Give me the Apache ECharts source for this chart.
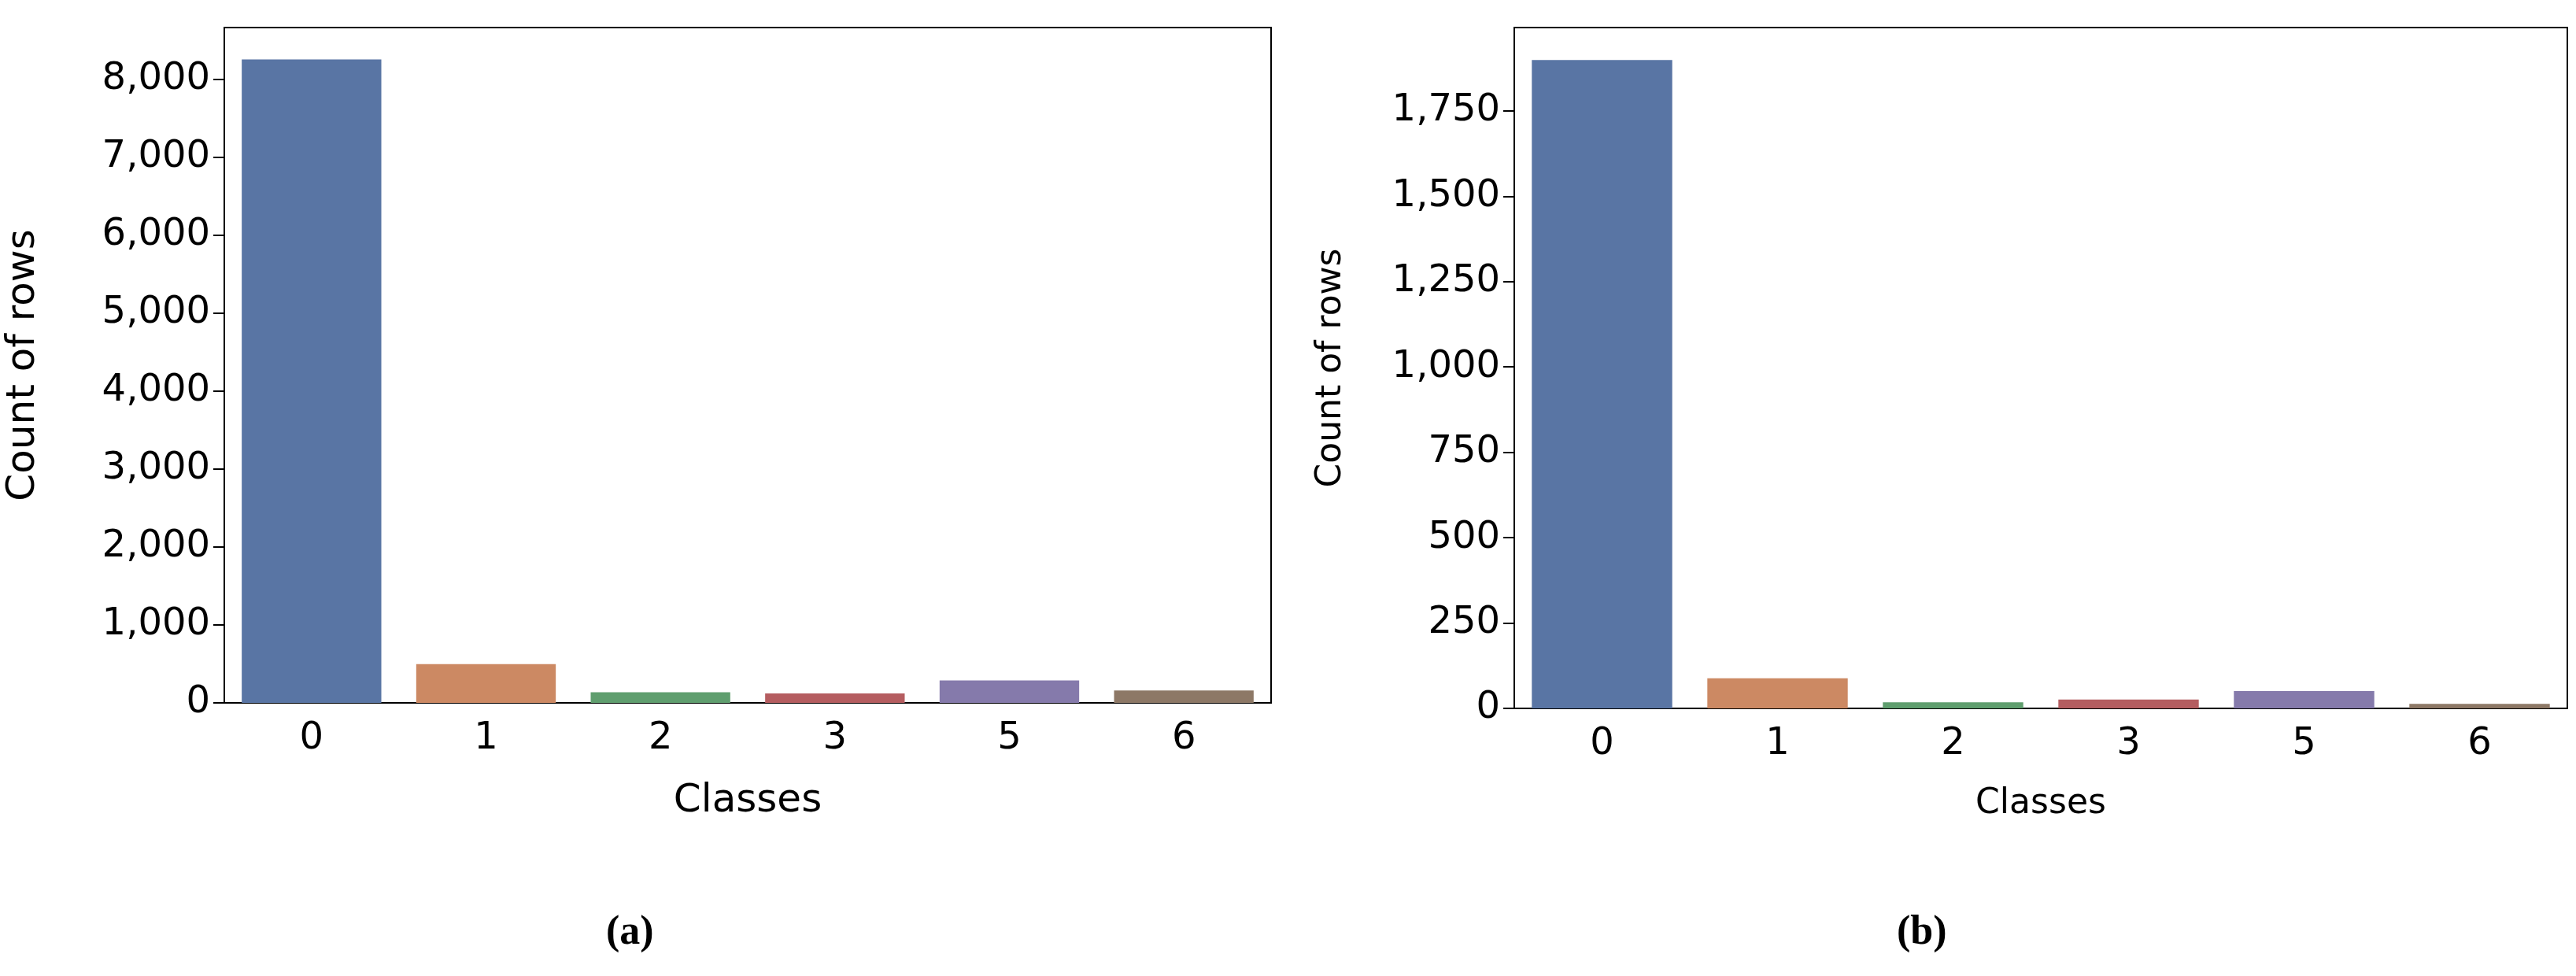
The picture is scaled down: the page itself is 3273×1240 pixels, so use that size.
<!DOCTYPE html>
<html>
<head>
<meta charset="utf-8">
<script src="https://cdn.jsdelivr.net/npm/echarts@6/dist/echarts.min.js"></script>
<style>
  html, body { margin: 0; padding: 0; background: #fff; }
  #chart { width: 3273px; height: 1240px; }
</style>
</head>
<body>
<div id="chart"></div>
<script>
const classes = ['0', '1', '2', '3', '5', '6'];
const countsA = [8257, 497, 136, 120, 289, 160];
const countsB = [1899, 88, 18, 26, 51, 13];
const colors = ['#5975a4', '#cc8963', '#5f9e6e', '#b55d60', '#857aab', '#8d7866'];

const chart = echarts.init(document.getElementById('chart'));

function xAxisFor(idx) {
  return {
    type: 'category', gridIndex: idx, data: classes,
    name: 'Classes', nameLocation: 'middle', nameGap: 100,
    nameTextStyle: { fontFamily: 'DejaVu Sans', fontSize: idx ? 44 : 50, color: '#000' },
    axisLine: { lineStyle: { color: '#000', width: 2 } },
    axisTick: { alignWithLabel: true, length: 14, lineStyle: { color: '#000', width: 2 } },
    axisLabel: { fontFamily: 'DejaVu Sans', fontSize: 48, color: '#000', margin: 22 }
  };
}

function yAxisFor(idx, max, interval) {
  return {
    type: 'value', gridIndex: idx, min: 0, max: max, interval: interval,
    name: 'Count of rows', nameLocation: 'middle', nameGap: idx ? 210 : 230,
    nameTextStyle: { fontFamily: 'DejaVu Sans', fontSize: idx ? 44 : 50, color: '#000' },
    axisLine: { show: true, lineStyle: { color: '#000', width: 2 } },
    axisTick: { show: true, length: 14, lineStyle: { color: '#000', width: 2 } },
    axisLabel: { fontFamily: 'DejaVu Sans', fontSize: 48, color: '#000', margin: 18, showMaxLabel: false },
    splitLine: { show: false }
  };
}

function barSeries(idx, values) {
  return {
    type: 'bar', xAxisIndex: idx, yAxisIndex: idx, barCategoryGap: '20%',
    data: values.map((v, i) => ({ value: v, itemStyle: { color: colors[i] } }))
  };
}

chart.setOption({
  animation: false,
  backgroundColor: '#fff',
  grid: [
    { left: 285, top: 35, width: 1330, height: 858, show: true, borderColor: '#000', borderWidth: 2 },
    { left: 1924, top: 35, width: 1338, height: 865, show: true, borderColor: '#000', borderWidth: 2 }
  ],
  xAxis: [xAxisFor(0), xAxisFor(1)],
  yAxis: [yAxisFor(0, 8666, 1000), yAxisFor(1, 1994, 250)],
  series: [barSeries(0, countsA), barSeries(1, countsB)],
  graphic: [
    { type: 'text', left: 770, top: 1160, style: { text: '(a)', font: 'bold 52px "Liberation Serif"', fill: '#000' } },
    { type: 'text', left: 2410, top: 1160, style: { text: '(b)', font: 'bold 52px "Liberation Serif"', fill: '#000' } }
  ]
});
</script>
</body>
</html>
